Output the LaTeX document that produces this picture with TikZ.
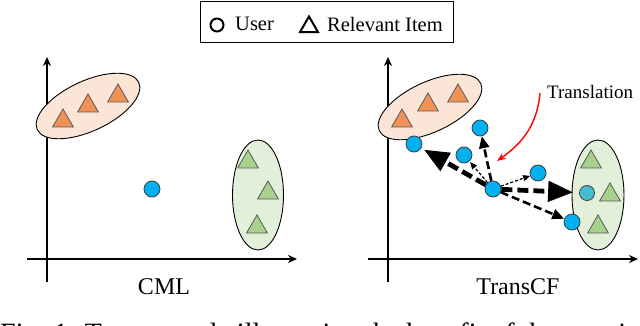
\documentclass[tikz,border=0pt]{standalone}
\usepackage{fontspec}
\setmainfont{Liberation Serif}
\usetikzlibrary{arrows.meta,positioning,shapes.geometric}
\definecolor{userblue}{RGB}{0,176,240}
\definecolor{usercyan}{RGB}{70,190,210}
\definecolor{itemorange}{RGB}{240,145,85}
\definecolor{clusterpeach}{RGB}{251,229,214}
\definecolor{itemgreen}{RGB}{169,209,142}
\definecolor{clustergreen}{RGB}{226,240,217}

\begin{document}
\begin{tikzpicture}[
  x=1pt, y=-1pt,
  axis/.style={line width=1.5pt, -{Stealth[length=9pt, width=8pt]}},
  user/.style={circle, draw=black!75, fill=userblue, line width=0.8pt, minimum size=16pt, inner sep=0pt},
  item/.style={regular polygon, regular polygon sides=3, draw=black!65, line width=0.8pt, minimum size=24pt, inner sep=0pt},
  cluster/.style={ellipse, draw=black, line width=0.9pt, inner sep=0pt},
  bigarrow/.style={line width=4.8pt, dash pattern=on 11pt off 5pt, -{Triangle[length=25pt, width=20pt]}},
  midarrow/.style={line width=2.6pt, dash pattern=on 8pt off 4pt, -{Triangle[length=12pt, width=10pt]}},
  smallarrow/.style={line width=1.2pt, dash pattern=on 3pt off 2pt, -{Triangle[length=7pt, width=6pt]}},
  label/.style={font=\fontsize{24}{26}\selectfont}
]
  \useasboundingbox (0,0) rectangle (640,326);

  % Legend box on top
  \node[draw, line width=1pt, minimum width=253pt, minimum height=41pt, inner sep=0pt] (legend) at (326.5,22.5) {};
  \node[circle, draw, line width=2pt, minimum size=13pt, inner sep=0pt] (legUser) at (217,25) {};
  \node[anchor=west, inner sep=0pt, font=\fontsize{20.5}{22}\selectfont] (legUserTxt) at (235,24) {User};
  \node[regular polygon, regular polygon sides=3, draw, line width=2pt, minimum size=21pt, inner sep=0pt] (legItem) at (309,27) {};
  \node[anchor=west, inner sep=0pt, font=\fontsize{20.5}{22}\selectfont] (legItemTxt) at (327,24) {Relevant Item};

  % Left panel: CML
  \draw[axis] (47,282) -- (47,57);
  \draw[axis] (27,259) -- (297,259);
  \node[label] (cmlTxt) at (164,287) {CML};

  \node[cluster, fill=clusterpeach, minimum width=112pt, minimum height=50pt, rotate=25] (peachL) at (88,106) {};
  \node[item, fill=itemorange] (oL1) at (63,121) {};
  \node[item, fill=itemorange] (oL2) at (88,106) {};
  \node[item, fill=itemorange] (oL3) at (118,96) {};

  \node[cluster, fill=clustergreen, minimum width=51pt, minimum height=110pt] (greenL) at (258,195) {};
  \node[item, fill=itemgreen] (gL1) at (248,162) {};
  \node[item, fill=itemgreen] (gL2) at (268,193) {};
  \node[item, fill=itemgreen] (gL3) at (257,227) {};

  \node[user] (cml) at (152,189) {};

  % Right panel: TransCF
  \draw[axis] (388,282) -- (388,57);
  \draw[axis] (368,259) -- (638,259);
  \node[label] (transTxt) at (518,287) {TransCF};

  \node[cluster, fill=clusterpeach, minimum width=112pt, minimum height=50pt, rotate=25] (peachR) at (430,107) {};
  \node[item, fill=itemorange] (oR1) at (402,121) {};
  \node[item, fill=itemorange] (oR2) at (428,105) {};
  \node[item, fill=itemorange] (oR3) at (458,96) {};

  \node[cluster, fill=clustergreen, minimum width=52pt, minimum height=110pt] (greenR) at (598,195) {};
  \node[item, fill=itemgreen] (gR1) at (591,162) {};
  \node[item, fill=itemgreen] (gR2) at (610,195) {};
  \node[item, fill=itemgreen] (gR3) at (598,227) {};

  % translated users
  \node[user] (c) at (493,189) {};
  \node[user] (a) at (414,144) {};
  \node[user] (b) at (464,155) {};
  \node[user] (d) at (480,128) {};
  \node[user] (e) at (538,173) {};
  \node[user] (f) at (572,222) {};
  \node[user, fill=usercyan, minimum size=15pt] (g) at (587,193) {};

  \draw[bigarrow, shorten >=3pt] (c) -- (a);
  \draw[bigarrow, shorten >=6pt] (c) -- (g);
  \draw[midarrow] (c) -- (d);
  \draw[midarrow] (c) -- (f);
  \draw[smallarrow, shorten >=1pt] (c) -- (b);
  \draw[smallarrow] (c) -- (e);

  % Translation note with red curved arrow
  \node[anchor=west, inner sep=0pt, font=\fontsize{19}{21}\selectfont] (transNote) at (547,92) {Translation};
  \coordinate (redStart) at (540,93);
  \coordinate (redEnd) at (497,161);
  \draw[red, line width=1.4pt, -{Stealth[length=9pt, width=7pt]}] (redStart) to[out=-95, in=35] (redEnd);

  % Caption, cut by the page edge
  \node[anchor=base west, inner sep=0pt, font=\fontsize{28}{30}\selectfont] (caption) at (0,342) {Fig. 1: Toy example illustrating the benefit of the user-item specific translation};
\end{tikzpicture}
\end{document}
